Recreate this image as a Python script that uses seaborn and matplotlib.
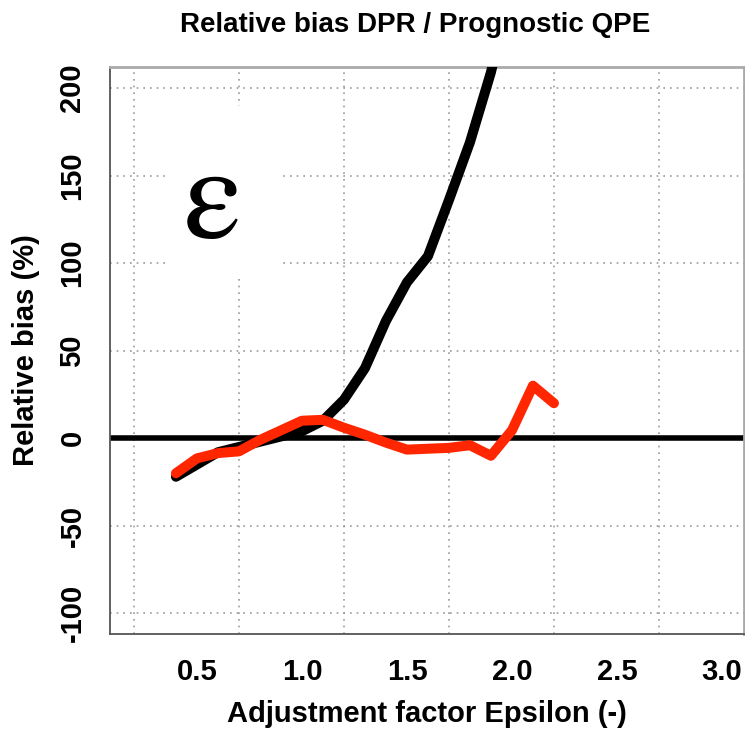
import numpy as np
import pandas as pd
import matplotlib
matplotlib.use("Agg")
import matplotlib.pyplot as plt
from matplotlib.patches import Rectangle
import seaborn as sns

# Adjustment factor values (epsilon) and relative bias in percent
eps_black = [0.4, 0.5, 0.6, 0.7, 0.8, 0.9, 1.0, 1.1, 1.2, 1.3, 1.4, 1.5, 1.6, 1.7, 1.8, 1.9, 2.0]
bias_black = [-22, -15, -8, -5, -2, 1, 4, 10, 22, 40, 67, 89, 104, 136, 169, 209, 260]

eps_red = [0.4, 0.5, 0.6, 0.7, 0.8, 0.9, 1.0, 1.1, 1.2, 1.3, 1.4, 1.5, 1.6, 1.7, 1.8, 1.9, 2.0, 2.1, 2.2]
bias_red = [-20, -11.5, -8.5, -7.5, -1, 4.5, 10, 10.5, 6, 2, -2.5, -6.5, -6, -5.5, -4, -10, 4.5, 30, 20]

x_ticks = [0.5, 1.0, 1.5, 2.0, 2.5, 3.0]
x_tick_labels = ["0.5", "1.0", "1.5", "2.0", "2.5", "3.0"]
y_ticks = [-100, -50, 0, 50, 100, 150, 200]
x_grid = [0.2, 0.7, 1.2, 1.7, 2.2, 2.7]
y_grid = [-100, -50, 50, 100, 150, 200]

sns.set_style("white")
plt.rcParams["font.family"] = ["Liberation Sans", "DejaVu Sans"]
plt.rcParams["axes.unicode_minus"] = False
plt.rcParams["text.color"] = "black"
plt.rcParams["xtick.labelcolor"] = "black"
plt.rcParams["ytick.labelcolor"] = "black"

W, H = 745, 731
fig = plt.figure(figsize=(W / 100, H / 100), dpi=100)
ax = fig.add_axes([110 / W, 1 - 634 / H, 634 / W, 567 / H])

ax.set_xlim(0.086, 3.105)
ax.set_ylim(-111.8, 212)

grid_kw = dict(color="#999999", lw=1.2, ls=(0, (1, 3)), zorder=1)
for gx in x_grid:
    ax.axvline(gx, **grid_kw)
for gy in y_grid:
    ax.axhline(gy, **grid_kw)

ax.axhline(0, color="black", lw=4, zorder=2)

df_black = pd.DataFrame({"eps": eps_black, "bias": bias_black})
df_red = pd.DataFrame({"eps": eps_red, "bias": bias_red})
sns.lineplot(data=df_black, x="eps", y="bias", color="black", lw=7.2, ax=ax,
             zorder=3, solid_capstyle="round", solid_joinstyle="round")
sns.lineplot(data=df_red, x="eps", y="bias", color="#ff2600", lw=7.2, ax=ax,
             zorder=4, solid_capstyle="round", solid_joinstyle="round")

# white legend panel holding the epsilon symbol
ax.add_patch(Rectangle((0.348, 91), 0.562, 99, facecolor="white", edgecolor="none",
                       zorder=1.5))
ax.text(0.574, 132, "ε", fontsize=95, ha="center", va="center",
        family="STIXGeneral", color="black", zorder=5)

ax.set_xticks(x_ticks)
ax.set_xticklabels(x_tick_labels)
ax.set_yticks(y_ticks)
ax.set_xlabel("")
ax.set_ylabel("")
ax.tick_params(axis="both", direction="out", length=8, width=1.3, color="#555555",
               labelsize=21, pad=9, labelcolor="black")
ax.tick_params(axis="y", labelrotation=90, pad=9)
for lab in ax.get_xticklabels() + ax.get_yticklabels():
    lab.set_fontweight("bold")
for lab in ax.get_yticklabels():
    lab.set_va("center")

for side in ["left", "bottom"]:
    ax.spines[side].set_color("#555555")
    ax.spines[side].set_linewidth(1.3)
for side in ["top", "right"]:
    ax.spines[side].set_color("#aaaaaa")
    ax.spines[side].set_linewidth(2)

fig.text(415.5 / W, 1 - 32 / H, "Relative bias DPR / Prognostic QPE", ha="center",
         va="baseline", fontsize=20, fontweight="bold", color="black")
fig.text(427 / W, 1 - 722 / H, "Adjustment factor Epsilon (-)", ha="center",
         va="baseline", fontsize=21, fontweight="bold", color="black")
fig.text(40 / W, 1 - 350 / H, "Relative bias (%)", rotation=90, ha="right",
         va="center", fontsize=21, fontweight="bold", color="black")

fig.savefig("out.png", dpi=100)
